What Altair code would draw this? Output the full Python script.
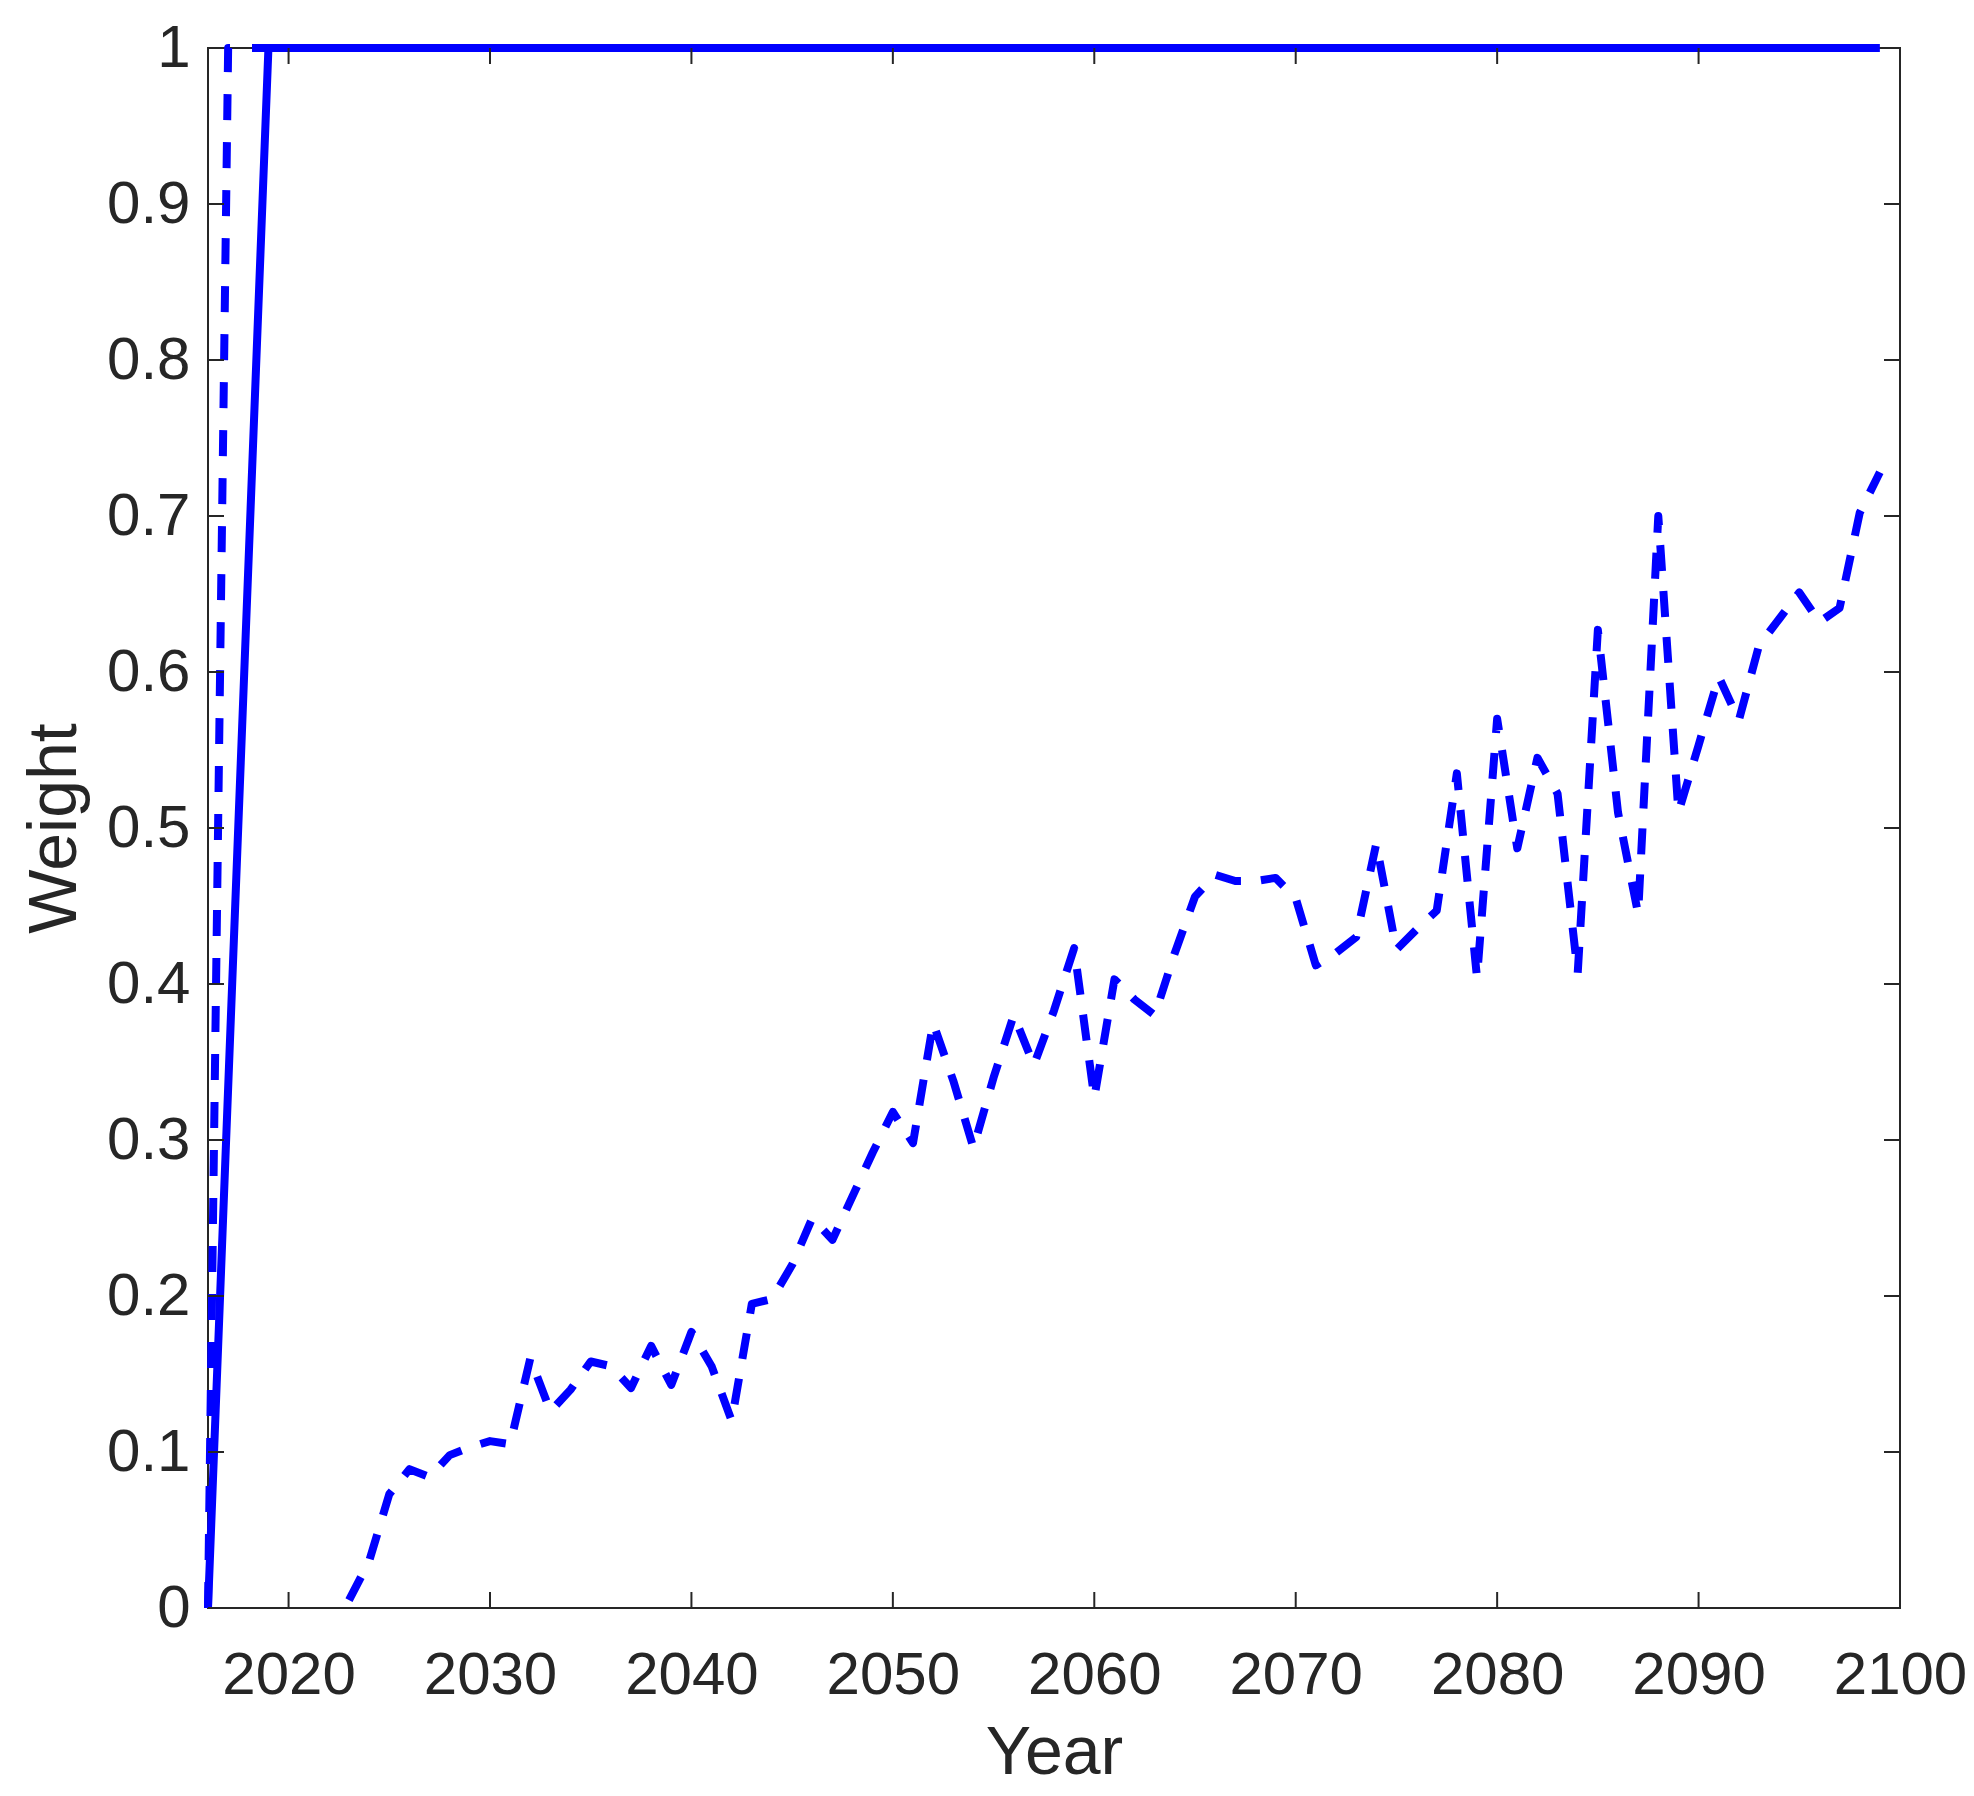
import altair as alt
import pandas as pd

# ---- data ----
years_long = list(range(2023, 2100))
weights_long = [
    0.005, 0.030, 0.073, 0.089, 0.084, 0.098, 0.103, 0.107, 0.105, 0.160,  # 2023-2032
    0.126, 0.140, 0.158, 0.155, 0.141, 0.168, 0.143, 0.177, 0.155, 0.120,  # 2033-2042
    0.195, 0.198, 0.220, 0.250, 0.236, 0.264, 0.292, 0.318, 0.298, 0.375,  # 2043-2052
    0.338, 0.295, 0.340, 0.380, 0.348, 0.383, 0.423, 0.327, 0.403, 0.390,  # 2053-2062
    0.380, 0.420, 0.456, 0.470, 0.466, 0.466, 0.468, 0.455, 0.412, 0.420,  # 2063-2072
    0.430, 0.490, 0.422, 0.435, 0.447, 0.535, 0.404, 0.570, 0.487, 0.545,  # 2073-2082
    0.522, 0.407, 0.627, 0.510, 0.445, 0.700, 0.510, 0.553, 0.597, 0.569,  # 2083-2092
    0.617, 0.634, 0.651, 0.632, 0.641, 0.702, 0.728,                       # 2093-2099
]
years_short_dash = [2016, 2017, 2099]
weights_short_dash = [0, 1, 1]
years_solid = [2016, 2019, 2099]
weights_solid = [0, 1, 1]

x_ticks = [2020, 2030, 2040, 2050, 2060, 2070, 2080, 2090, 2100]
y_ticks = [0, 0.1, 0.2, 0.3, 0.4, 0.5, 0.6, 0.7, 0.8, 0.9, 1]

W, H = 1692, 1560
BLUE = "#0000FF"
INK = "#262626"
FONT = "Liberation Sans"
TICK = 16
LW = 8

df_long = pd.DataFrame({"year": years_long, "w": weights_long})
df_d1 = pd.DataFrame({"year": years_short_dash, "w": weights_short_dash})
df_solid = pd.DataFrame({"year": years_solid, "w": weights_solid})
df_xt = pd.DataFrame({"year": x_ticks})
df_yt = pd.DataFrame({"w": y_ticks})

xscale = alt.Scale(domain=[2016, 2100], nice=False, zero=False)
yscale = alt.Scale(domain=[0, 1], nice=False, zero=False)

x_enc = alt.X(
    "year:Q", scale=xscale,
    axis=alt.Axis(
        values=x_ticks, format="d", title="Year", ticks=False, domain=False, grid=False,
        labelFlush=False, labelOverlap=False, labelPadding=38,
        labelFont=FONT, labelFontSize=60, labelColor=INK,
        titleFont=FONT, titleFontSize=68, titleFontWeight="normal", titleColor=INK,
        titleX=W / 2, titleY=165, titleAlign="center", titleBaseline="alphabetic",
    ),
)
y_enc = alt.Y(
    "w:Q", scale=yscale,
    axis=alt.Axis(
        values=y_ticks, format="~g", title="Weight", ticks=False, domain=False, grid=False,
        labelFlush=False, labelOverlap=False, labelPadding=18,
        labelFont=FONT, labelFontSize=60, labelColor=INK,
        titleFont=FONT, titleFontSize=68, titleFontWeight="normal", titleColor=INK,
        titleAngle=270, titleX=-153, titleY=H / 2, titleAlign="center", titleBaseline="middle",
    ),
)

line_long = alt.Chart(df_long).mark_line(
    color=BLUE, strokeWidth=LW, strokeDash=[26, 20], strokeCap="butt", strokeJoin="round", clip=False
).encode(x=x_enc, y=y_enc)

line_d1 = alt.Chart(df_d1).mark_line(
    color=BLUE, strokeWidth=LW, strokeDash=[26, 22], strokeCap="butt", strokeJoin="round", clip=False
).encode(x="year:Q", y="w:Q")

line_solid = alt.Chart(df_solid).mark_line(
    color=BLUE, strokeWidth=LW, strokeJoin="miter", clip=False
).encode(x="year:Q", y="w:Q")

tick_bottom = alt.Chart(df_xt).mark_rule(color=INK, strokeWidth=2).encode(
    x="year:Q", y=alt.value(H), y2=alt.value(H - TICK))
tick_top = alt.Chart(df_xt).mark_rule(color=INK, strokeWidth=2).encode(
    x="year:Q", y=alt.value(0), y2=alt.value(TICK))
tick_left = alt.Chart(df_yt).mark_rule(color=INK, strokeWidth=2).encode(
    y="w:Q", x=alt.value(0), x2=alt.value(TICK))
tick_right = alt.Chart(df_yt).mark_rule(color=INK, strokeWidth=2).encode(
    y="w:Q", x=alt.value(W), x2=alt.value(W - TICK))

chart = alt.layer(
    line_long, line_d1, line_solid, tick_bottom, tick_top, tick_left, tick_right
).properties(
    width=W, height=H,
    autosize=alt.AutoSizeParams(type="none"),
    padding={"left": 200, "top": 40, "right": 66, "bottom": 180},
    background="white",
).configure_view(stroke=INK, strokeWidth=2)

chart.save("out.html", embed_options={"renderer": "svg", "actions": False})
